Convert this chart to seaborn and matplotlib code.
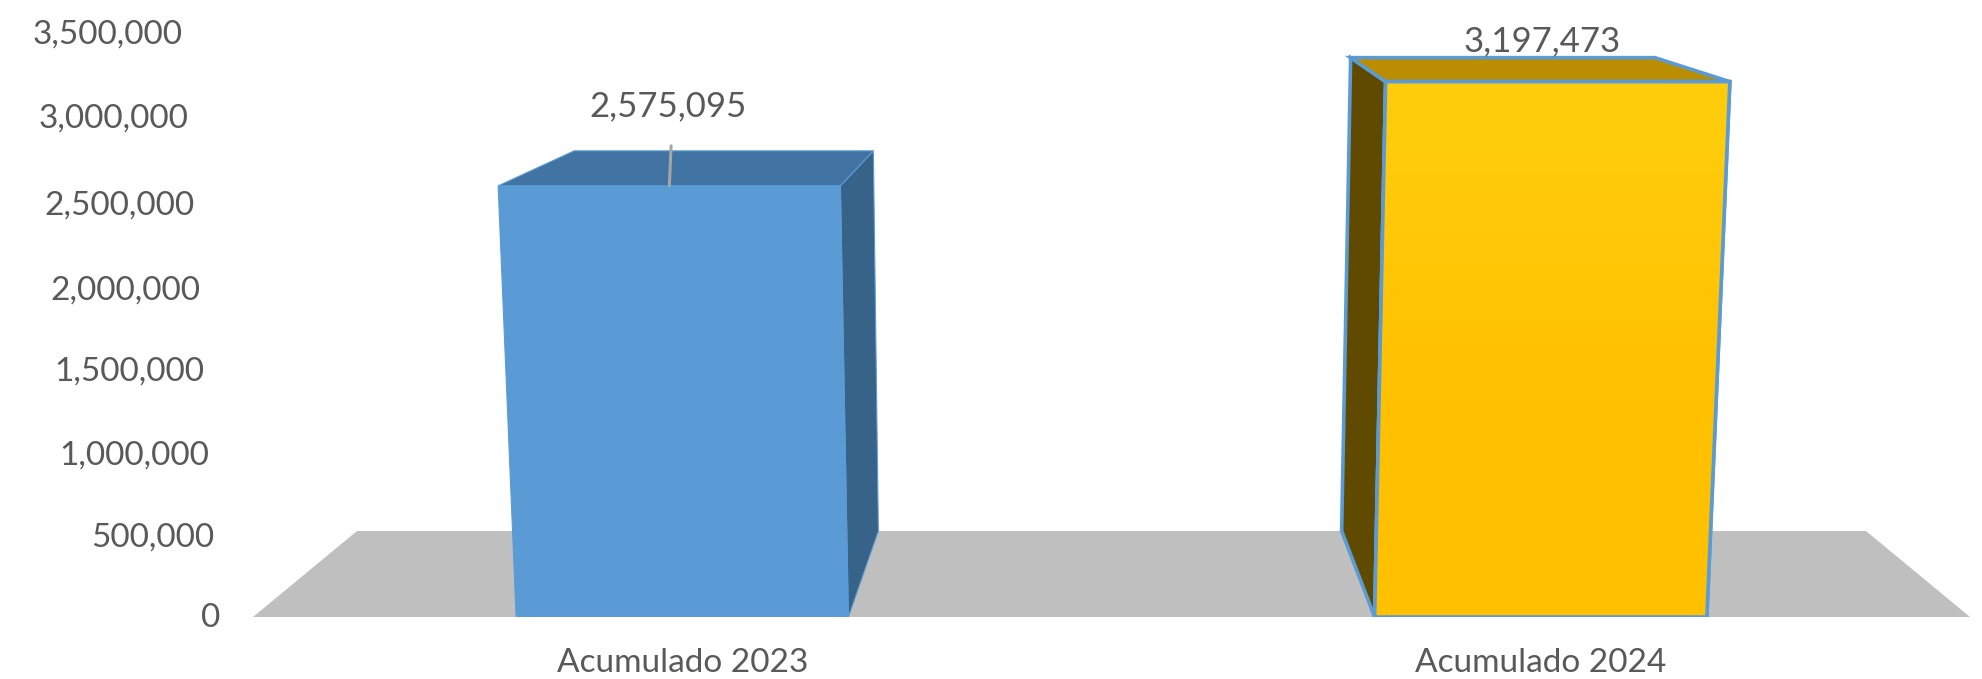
import matplotlib
matplotlib.use('Agg')
import matplotlib.pyplot as plt
import numpy as np
from matplotlib.colors import LinearSegmentedColormap
from matplotlib.patches import Polygon
from matplotlib.ticker import FuncFormatter
from matplotlib.transforms import ScaledTranslation
import seaborn as sns

categories = ['Acumulado 2023', 'Acumulado 2024']
values = [2575095, 3197473]
y_ticks = [0, 500000, 1000000, 1500000, 2000000, 2500000, 3000000, 3500000]

FRONT = ['#5B9BD5', '#FFC000']
TOP = ['#4173A3', '#BA8E00']
SIDE = ['#376388', '#604A00']
EDGE = '#5B9BD5'
TEXT = '#595959'

# pixel sizes of the reference, the plot area sits inside them
W, H = 1982, 679
LEFT, RIGHT, TOP_Y, BOTTOM_Y = 253, 1970, 31, 617

# 3d look of each bar, in px relative to its flat rectangle
SKEW = [
    {'tl': -18, 'tr': -8, 'up': 35, 'btl': 58, 'btr': 25, 'base_x': 30, 'side': 'right'},
    {'tl': 11, 'tr': 23, 'up': 24, 'btl': -24, 'btr': -52, 'base_x': -33, 'side': 'left'},
]
EDGE_W = [0.8, 2.6]
DEPTH = 86  # floor depth in px
FLOOR_INSET = 104

# per label nudge of the y axis (perspective), px
TICK_DX = [-33, -39, -44, -49, -53, -58, -65, -70]
TICK_DY = [2, -1, -3, -3, -5, -4, -1, -1]


def main():
    sns.set_theme(style='white')
    plt.rcParams['font.family'] = ['Lato', 'DejaVu Sans']

    fig = plt.figure(figsize=(W / 100, H / 100), dpi=100)
    ax = fig.add_axes([LEFT / W, 1 - BOTTOM_Y / H,
                       (RIGHT - LEFT) / W, (BOTTOM_Y - TOP_Y) / H])

    sns.barplot(x=categories, y=values, hue=categories, palette=FRONT,
                saturation=1, width=0.387, legend=False, ax=ax, zorder=3)
    bars = list(ax.patches)
    ax.set_xlim(-0.5, 1.5)
    ax.set_ylim(0, y_ticks[-1])

    px_x = (ax.get_xlim()[1] - ax.get_xlim()[0]) / (RIGHT - LEFT)
    px_y = y_ticks[-1] / (BOTTOM_Y - TOP_Y)

    # floor
    ins = FLOOR_INSET / (RIGHT - LEFT)
    dep = DEPTH / (BOTTOM_Y - TOP_Y)
    ax.add_patch(Polygon([(0, 0), (ins, dep), (1 - ins, dep), (1, 0)],
                         closed=True, transform=ax.transAxes,
                         facecolor='#BFBFBF', edgecolor='none', zorder=1))

    for i, bar in enumerate(bars):
        s = SKEW[i]
        x0, x1 = bar.get_x(), bar.get_x() + bar.get_width()
        h = bar.get_height()
        tl = (x0 + s['tl'] * px_x, h)
        tr = (x1 + s['tr'] * px_x, h)
        btl = (x0 + s['btl'] * px_x, h + s['up'] * px_y)
        btr = (x1 + s['btr'] * px_x, h + s['up'] * px_y)
        if s['side'] == 'right':
            side = [tr, btr, (x1 + s['base_x'] * px_x, DEPTH * px_y), (x1, 0)]
        else:
            side = [btl, tl, (x0, 0), (x0 + s['base_x'] * px_x, DEPTH * px_y)]
        lw = EDGE_W[i]
        ax.add_patch(Polygon(side, closed=True, facecolor=SIDE[i],
                             edgecolor=EDGE, linewidth=lw, zorder=2))
        ax.add_patch(Polygon([tl, btl, btr, tr], closed=True, facecolor=TOP[i],
                             edgecolor=EDGE, linewidth=lw, zorder=2))
        front = Polygon([(x0, 0), tl, tr, (x1, 0)], closed=True,
                        facecolor=FRONT[i], edgecolor=EDGE, linewidth=lw,
                        zorder=4)
        ax.add_patch(front)

        # the flat bar stays under the skewed face, cut to fit inside it
        inner0, inner1 = max(x0, tl[0]), min(x1, tr[0])
        bar.set_x(inner0)
        bar.set_width(inner1 - inner0)
        bar.set_edgecolor('none')

        if i == 1:
            # yellow face gets a bit lighter towards the top
            cmap = LinearSegmentedColormap.from_list('face', ['#FFC000', '#FFCC0C'])
            img = ax.imshow(np.array([[1.0], [0.5], [0.0], [0.0]]), cmap=cmap,
                            extent=(tl[0] - 0.1, tr[0] + 0.1, 0, h),
                            aspect='auto', origin='upper', zorder=4.1,
                            interpolation='bilinear')
            inner = Polygon([(x0, 0), tl, tr, (x1, 0)], closed=True,
                            transform=ax.transData)
            img.set_clip_path(inner)
            ax.add_patch(Polygon([(x0, 0), tl, tr, (x1, 0)], closed=True,
                                 facecolor='none', edgecolor=EDGE, linewidth=lw,
                                 zorder=4.2))

    ax.set_xlim(-0.5, 1.5)
    ax.set_ylim(0, y_ticks[-1])

    # data labels
    ax.plot([0 - 0.015, 0 - 0.013],
            [values[0], values[0] + 40 * px_y],
            color='#A6A6A6', linewidth=2.2, zorder=5)
    ax.annotate(f'{values[0]:,}', xy=(0, values[0]), xytext=(-14, 80),
                textcoords='offset pixels', ha='center', va='center',
                fontsize=25, color=TEXT, zorder=6)
    ax.annotate(f'{values[1]:,}', xy=(1, values[1]), xytext=(1, 40),
                textcoords='offset pixels', ha='center', va='center',
                fontsize=25, color=TEXT, zorder=6)

    # axes
    sns.despine(ax=ax, left=True, bottom=True)
    ax.set_yticks(y_ticks)
    ax.yaxis.set_major_formatter(FuncFormatter(lambda v, _: f'{int(v):,}'))
    ax.tick_params(axis='y', length=0, pad=0, labelsize=24, labelcolor=TEXT)
    ax.tick_params(axis='x', length=0, pad=22, labelsize=24, labelcolor=TEXT)
    for lab, dx, dy in zip(ax.get_yticklabels(), TICK_DX, TICK_DY):
        off = ScaledTranslation(dx / 100, dy / 100, fig.dpi_scale_trans)
        lab.set_transform(lab.get_transform() + off)
    ax.grid(False)

    fig.savefig('out.png', dpi=100)


if __name__ == '__main__':
    main()
